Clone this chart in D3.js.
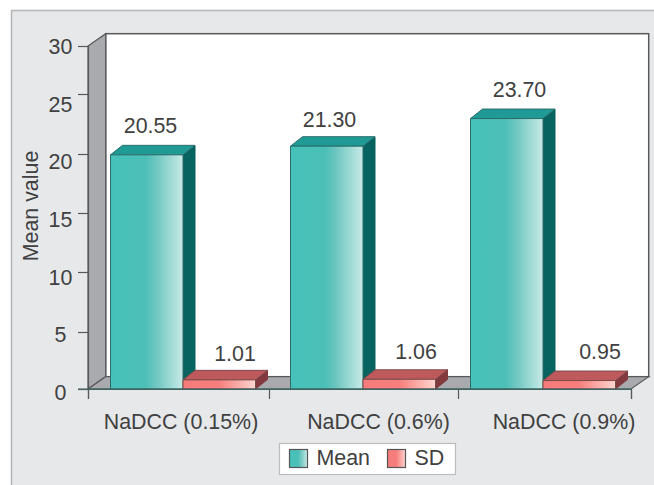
<!DOCTYPE html>
<html>
<head>
<meta charset="utf-8">
<script src="https://cdn.jsdelivr.net/npm/d3@7"></script>
<style>
  body { margin: 0; background: #fff; }
  svg { display: block; }
  text { font-family: "Liberation Sans", Arial, sans-serif; font-size: 21.4px; fill: #404040; }
</style>
</head>
<body>
<div id="chart"></div>
<script>
// Data
var categories = ["NaDCC (0.15%)", "NaDCC (0.6%)", "NaDCC (0.9%)"];
var seriesNames = ["Mean", "SD"];
var meanValues = [20.55, 21.30, 23.70];
var sdValues = [1.01, 1.06, 0.95];
var yTicks = [0, 5, 10, 15, 20, 25, 30];

var svgWidth = 654;
var svgHeight = 485;

// Floor line and depth of the 3D look
var baseY = 389;
var depthX = 12;
var depthY = 9.5;
var wallX = 17.7;
var wallY = 12.3;

var svg = d3.select("#chart")
  .append("svg")
  .attr("width", svgWidth)
  .attr("height", svgHeight);

// Gradients for the bar fronts
var defs = svg.append("defs");

function addGradient(id, stops) {
  var grad = defs.append("linearGradient").attr("id", id);
  stops.forEach(function(s) {
    grad.append("stop").attr("offset", s[0]).attr("stop-color", s[1]);
  });
}
addGradient("meanFront", [[0, "#46c2ba"], [0.48, "#4cbfb7"], [0.62, "#6cc6c0"], [1, "#c8eae6"]]);
addGradient("sdFront", [[0, "#f47c7a"], [0.5, "#f67f7d"], [1, "#ffd6d0"]]);

var seriesStyle = {
  Mean: { front: "url(#meanFront)", top: "#1f9a94", side: "#07635f", line: "#2b6d6b" },
  SD: { front: "url(#sdFront)", top: "#bf5a5c", side: "#833a3f", line: "#7d4a4a" }
};

// Scales
var y = d3.scaleLinear().domain([0, 30]).range([391.5, 46]);
// the tick marks in the picture do not sit on the same scale as the labels and bars
var yMark = d3.scaleLinear().domain(yTicks).range([389, 332, 272, 213, 154, 94, 46]);
var xGroup = d3.scaleBand().domain(categories).range([110.5, 650.5]);
var xSeries = d3.scaleBand().domain(seriesNames).range([0, 145]);
var xMark = d3.scaleLinear().domain([0, 1, 2, 3]).range([88, 269, 458, 631]);
var xCategory = d3.scaleOrdinal().domain(categories).range([181, 378.5, 564]);

// Background panel
svg.append("rect")
  .attr("x", 11.5).attr("y", 10.5)
  .attr("width", svgWidth).attr("height", svgHeight)
  .attr("fill", "#e6e8ea")
  .attr("stroke", "#b3b4b6")
  .attr("stroke-width", 1.5);

// Back wall, left wall and floor
var wallTop = y(30) - wallY;
var wallFloor = baseY - wallY;
var frontRight = xMark(3);

svg.append("rect")
  .attr("x", xMark(0) + wallX).attr("y", wallTop)
  .attr("width", frontRight - xMark(0)).attr("height", wallFloor - wallTop)
  .attr("fill", "#fff")
  .attr("stroke", "#58595b")
  .attr("stroke-width", 1.5);

svg.append("polygon")
  .attr("points", [[xMark(0), y(30)], [xMark(0) + wallX, wallTop], [xMark(0) + wallX, wallFloor], [xMark(0), baseY]].join(" "))
  .attr("fill", "#a9aaad")
  .attr("stroke", "#58595b")
  .attr("stroke-width", 1.2);

svg.append("polygon")
  .attr("points", [[xMark(0), baseY], [xMark(0) + wallX, wallFloor], [frontRight + wallX, wallFloor], [frontRight, baseY]].join(" "))
  .attr("fill", "#a9aaad")
  .attr("stroke", "#58595b")
  .attr("stroke-width", 1.2);

// Bars
var barData = [];
categories.forEach(function(c, i) {
  barData.push({ category: c, series: "Mean", value: meanValues[i] });
  barData.push({ category: c, series: "SD", value: sdValues[i] });
});

var bars = svg.selectAll(".bar")
  .data(barData)
  .enter()
  .append("g")
  .attr("class", "bar")
  .attr("transform", d => `translate(${xGroup(d.category) + xSeries(d.series)}, 0)`)
  .attr("stroke-linejoin", "round")
  .attr("stroke-width", 1);

var barW = xSeries.bandwidth();

bars.append("polygon")
  .attr("points", d => [[barW, y(d.value)], [barW + depthX, y(d.value) - depthY], [barW + depthX, baseY - depthY], [barW, baseY]].join(" "))
  .attr("fill", d => seriesStyle[d.series].side)
  .attr("stroke", d => seriesStyle[d.series].side);

bars.append("polygon")
  .attr("points", d => [[0, y(d.value)], [depthX, y(d.value) - depthY], [barW + depthX, y(d.value) - depthY], [barW, y(d.value)]].join(" "))
  .attr("fill", d => seriesStyle[d.series].top)
  .attr("stroke", d => seriesStyle[d.series].line);

bars.append("rect")
  .attr("y", d => y(d.value))
  .attr("width", barW)
  .attr("height", d => baseY - y(d.value))
  .attr("fill", d => seriesStyle[d.series].front)
  .attr("stroke", d => seriesStyle[d.series].line);

// Value labels, the picture places them by hand so each one gets a small nudge
var labelOffset = { Mean: [40, 39, 49], SD: [52, 53, 57] };
var labelRise = { Mean: [12, 10, 12], SD: [9.5, 11, 12] };

svg.selectAll(".valueLabel")
  .data(barData)
  .enter()
  .append("text")
  .attr("class", "valueLabel")
  .attr("text-anchor", "middle")
  .attr("x", d => xGroup(d.category) + xSeries(d.series) + labelOffset[d.series][categories.indexOf(d.category)])
  .attr("y", d => y(d.value) - depthY - labelRise[d.series][categories.indexOf(d.category)])
  .text(d => d.value.toFixed(2));

// Axes
var leftMarks = d3.axisLeft(yMark).tickValues(yTicks).tickSize(10).tickFormat("");
svg.append("g")
  .attr("transform", `translate(${xMark(0)}, 0)`)
  .call(leftMarks)
  .call(g => g.select(".domain").attr("stroke", "#58595b").attr("stroke-width", 1.2))
  .call(g => g.selectAll("line").attr("stroke", "#58595b").attr("stroke-width", 1.2));

var leftLabels = d3.axisLeft(y).tickValues(yTicks).tickSize(0);
svg.append("g")
  .attr("transform", `translate(${xMark(0)}, 0)`)
  .call(leftLabels)
  .call(g => g.select(".domain").remove())
  .call(g => g.selectAll("text")
    .attr("x", -27.5)
    .attr("dy", "0.36em")
    .attr("text-anchor", "middle")
    .style("font-size", "21.4px")
    .style("font-family", '"Liberation Sans", Arial, sans-serif'));

var bottomMarks = d3.axisBottom(xMark).tickValues([0, 1, 2, 3]).tickSize(10).tickFormat("");
svg.append("g")
  .attr("transform", `translate(0, ${baseY})`)
  .call(bottomMarks)
  .call(g => g.select(".domain").attr("stroke", "#3f6462").attr("stroke-width", 1.2))
  .call(g => g.selectAll("line").attr("stroke", "#58595b").attr("stroke-width", 1.2));

// tick zero reaches left of the axis
svg.append("line")
  .attr("x1", xMark(0) - 10).attr("x2", xMark(3))
  .attr("y1", baseY).attr("y2", baseY)
  .attr("stroke", "#3f6462")
  .attr("stroke-width", 1.2);

// Category labels
svg.selectAll(".categoryLabel")
  .data(categories)
  .enter()
  .append("text")
  .attr("class", "categoryLabel")
  .attr("text-anchor", "middle")
  .attr("x", d => xCategory(d))
  .attr("y", 429)
  .text(d => d);

// Axis title
svg.append("text")
  .attr("transform", "translate(38, 206) rotate(-90)")
  .attr("text-anchor", "middle")
  .text("Mean value");

// Legend
var legend = svg.append("g");

legend.append("rect")
  .attr("x", 279.5).attr("y", 443.5)
  .attr("width", 176).attr("height", 31)
  .attr("fill", "#fff")
  .attr("stroke", "#bcbcbc")
  .attr("stroke-width", 1.2);

var legendX = d3.scaleOrdinal().domain(seriesNames).range([289.5, 387.5]);

legend.selectAll(".swatch")
  .data(seriesNames)
  .enter()
  .append("rect")
  .attr("class", "swatch")
  .attr("x", d => legendX(d))
  .attr("y", 449.5)
  .attr("width", 18)
  .attr("height", 18)
  .attr("fill", d => seriesStyle[d].front)
  .attr("stroke", "#555")
  .attr("stroke-width", 1.2);

legend.selectAll(".legendLabel")
  .data(seriesNames)
  .enter()
  .append("text")
  .attr("class", "legendLabel")
  .attr("x", d => legendX(d) + 27)
  .attr("y", 464.5)
  .text(d => d);
</script>
</body>
</html>
